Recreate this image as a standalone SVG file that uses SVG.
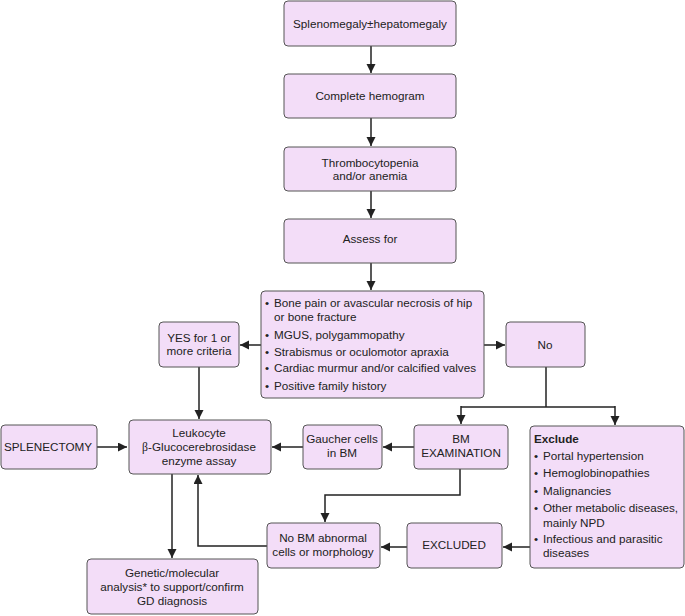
<svg xmlns="http://www.w3.org/2000/svg" width="685" height="616" viewBox="0 0 685 616">
<defs>
<marker id="ah" markerWidth="10" markerHeight="10" refX="9" refY="4.5" orient="auto" markerUnits="userSpaceOnUse">
<path d="M0,0 L9,4.5 L0,9 Z" fill="#222"/>
</marker>
<style>
.box{fill:#f3ddf8;stroke:#555;stroke-width:1}
text{font-family:"Liberation Sans",Arial,sans-serif;font-size:11.7px;fill:#222}
.c{text-anchor:middle}
.b{font-weight:bold}
.conn path{fill:none;stroke:#222;stroke-width:1.5}
</style>
</defs>
<rect width="685" height="616" fill="#fff"/>
<g class="conn">
<path d="M371,46 V73" marker-end="url(#ah)"/>
<path d="M371,118 V146" marker-end="url(#ah)"/>
<path d="M371,191 V218" marker-end="url(#ah)"/>
<path d="M371,263 V290" marker-end="url(#ah)"/>
<path d="M261,345 H240" marker-end="url(#ah)"/>
<path d="M484,345 H505" marker-end="url(#ah)"/>
<path d="M199,367 V419" marker-end="url(#ah)"/>
<path d="M546,367 V407"/>
<path d="M461,407 H615"/>
<path d="M461,406 V424" marker-end="url(#ah)"/>
<path d="M615,406 V425" marker-end="url(#ah)"/>
<path d="M97,447 H127" marker-end="url(#ah)"/>
<path d="M414,447 H383" marker-end="url(#ah)"/>
<path d="M303,447 H272" marker-end="url(#ah)"/>
<path d="M460,469 V495 H325 V522" marker-end="url(#ah)"/>
<path d="M172,474 V558" marker-end="url(#ah)"/>
<path d="M267,546 H198 V475" marker-end="url(#ah)"/>
<path d="M530,547 H503" marker-end="url(#ah)"/>
<path d="M407,547 H381" marker-end="url(#ah)"/>
</g>
<g id="n1"><rect class="box" x="284" y="1" width="172" height="45" rx="4"/><text class="c" x="370" y="28">Splenomegaly±hepatomegaly</text></g>
<g id="n2"><rect class="box" x="284" y="74" width="172" height="44" rx="4"/><text class="c" x="370" y="100">Complete hemogram</text></g>
<g id="n3"><rect class="box" x="284" y="147" width="172" height="44" rx="4"/><text class="c" x="370" y="167">Thrombocytopenia</text><text class="c" x="370" y="180">and/or anemia</text></g>
<g id="n4"><rect class="box" x="284" y="219" width="172" height="44" rx="4"/><text class="c" x="370" y="243">Assess for</text></g>
<g id="criteria"><rect class="box" x="261" y="291" width="223" height="107" rx="4"/>
<text x="265" y="307">•</text><text x="274" y="307">Bone pain or avascular necrosis of hip</text>
<text x="274" y="321">or bone fracture</text>
<text x="265" y="339">•</text><text x="274" y="339">MGUS, polygammopathy</text>
<text x="265" y="356">•</text><text x="274" y="356">Strabismus or oculomotor apraxia</text>
<text x="265" y="372">•</text><text x="274" y="372">Cardiac murmur and/or calcified valves</text>
<text x="265" y="390">•</text><text x="274" y="390">Positive family history</text>
</g>
<g id="yes"><rect class="box" x="159" y="322" width="80" height="45" rx="4"/><text class="c" x="199" y="342">YES for 1 or</text><text class="c" x="199" y="355">more criteria</text></g>
<g id="no"><rect class="box" x="506" y="322" width="79" height="45" rx="4"/><text class="c" x="545" y="349">No</text></g>
<g id="splenectomy"><rect class="box" x="1" y="425" width="96" height="44" rx="4"/><text class="c" x="48" y="451">SPLENECTOMY</text></g>
<g id="leukocyte"><rect class="box" x="129" y="420" width="142" height="54" rx="4"/><text class="c" x="199" y="437">Leukocyte</text><text class="c" x="199" y="451"><tspan font-family="'Liberation Serif',serif">β</tspan>-Glucocerebrosidase</text><text class="c" x="199" y="465">enzyme assay</text></g>
<g id="gaucher"><rect class="box" x="303" y="425" width="79" height="44" rx="4"/><text class="c" x="342" y="443">Gaucher cells</text><text class="c" x="342" y="457">in BM</text></g>
<g id="bmexam"><rect class="box" x="414" y="425" width="94" height="44" rx="4"/><text class="c" x="461" y="443">BM</text><text class="c" x="461" y="457">EXAMINATION</text></g>
<g id="exclude"><rect class="box" x="530" y="426" width="154" height="142" rx="4"/>
<text class="b" x="534" y="443">Exclude</text>
<text x="534" y="460">•</text><text x="543" y="460">Portal hypertension</text>
<text x="534" y="477">•</text><text x="543" y="477">Hemoglobinopathies</text>
<text x="534" y="495">•</text><text x="543" y="495">Malignancies</text>
<text x="534" y="512">•</text><text x="543" y="512">Other metabolic diseases,</text>
<text x="543" y="527">mainly NPD</text>
<text x="534" y="543">•</text><text x="543" y="543">Infectious and parasitic</text>
<text x="543" y="557">diseases</text>
</g>
<g id="nobm"><rect class="box" x="267" y="523" width="113" height="45" rx="4"/><text class="c" x="323" y="542">No BM abnormal</text><text class="c" x="323" y="556">cells or morphology</text></g>
<g id="excluded"><rect class="box" x="407" y="523" width="95" height="45" rx="4"/><text class="c" x="454" y="549">EXCLUDED</text></g>
<g id="genetic"><rect class="box" x="87" y="559" width="171" height="55" rx="4"/><text class="c" x="172" y="577">Genetic/molecular</text><text class="c" x="172" y="591">analysis* to support/confirm</text><text class="c" x="172" y="605">GD diagnosis</text></g>
</svg>
